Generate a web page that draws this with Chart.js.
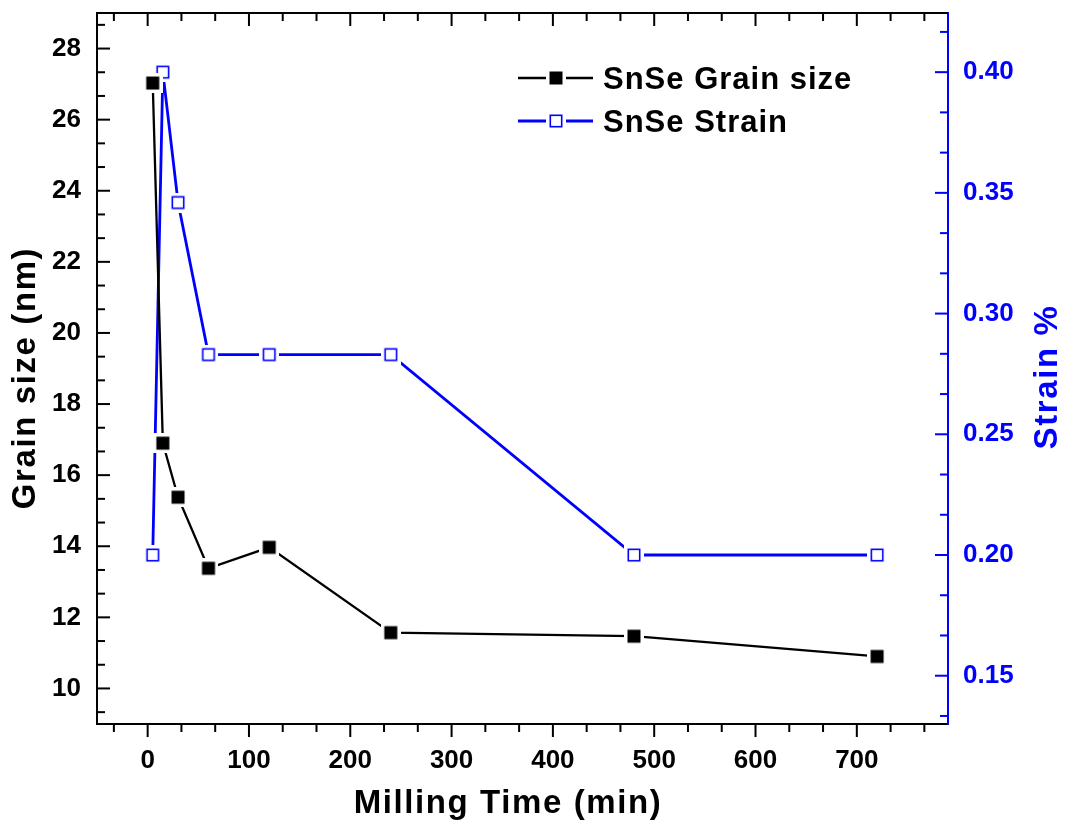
<!DOCTYPE html>
<html>
<head>
<meta charset="utf-8">
<script src="https://cdn.jsdelivr.net/npm/chart.js@4.4.1/dist/chart.umd.min.js"></script>
<style>
  html, body { margin: 0; padding: 0; background: #fff; }
</style>
</head>
<body>
<canvas id="grain-chart" width="1065" height="824"></canvas>
<script>
// values
const millingTime = [5, 15, 30, 60, 120, 240, 480, 720];
const grainSize = [27.03, 16.9, 15.38, 13.38, 13.97, 11.57, 11.47, 10.9];
const strain = [0.200, 0.400, 0.346, 0.283, 0.283, 0.283, 0.200, 0.200];
const xTicks = [0, 100, 200, 300, 400, 500, 600, 700];
const grainTicks = [10, 12, 14, 16, 18, 20, 22, 24, 26, 28];
const strainTicks = [0.15, 0.20, 0.25, 0.30, 0.35, 0.40];
const seriesNames = ['SnSe Grain size', 'SnSe Strain'];

const BLUE = '#0000ff';
const FAMILY = '"Liberation Sans", Arial, sans-serif';

// square markers with a white ring, so the line stops short of them
function makeMarker(filled, color) {
  const c = document.createElement('canvas');
  c.width = 20; c.height = 20;
  const g = c.getContext('2d');
  g.fillStyle = '#fff';
  g.fillRect(0, 0, 20, 20);
  if (filled) {
    g.fillStyle = color;
    g.fillRect(3.5, 3.5, 13, 13);
  } else {
    g.strokeStyle = color;
    g.lineWidth = 1.6;
    g.strokeRect(4.3, 4.3, 11.4, 11.4);
  }
  return c;
}
const blackMark = makeMarker(true, '#000');
const blueMark = makeMarker(false, BLUE);

function minorValues(scale, majors) {
  const step = (majors[1] - majors[0]) / 3;
  const out = [];
  let v = majors[0];
  while (v - step >= scale.min - 1e-9) v -= step;
  for (; v <= scale.max + 1e-9; v += step) out.push(v);
  return out;
}

function isMajor(v, majors) {
  return majors.some(m => Math.abs(m - v) < 1e-6);
}

function noPad(s) {
  s.paddingTop = 0; s.paddingBottom = 0;
  s.paddingLeft = 0; s.paddingRight = 0;
}

const framePlugin = {
  id: 'frame',
  afterDraw(chart) {
    const ctx = chart.ctx;
    const {left, right, top, bottom} = chart.chartArea;
    const sx = chart.scales.x, sy = chart.scales.y, sy2 = chart.scales.y2;
    ctx.save();
    ctx.lineWidth = 2;
    ctx.lineCap = 'butt';

    // top frame line
    ctx.strokeStyle = '#000';
    ctx.beginPath();
    ctx.moveTo(left - 1, top);
    ctx.lineTo(right, top);
    ctx.stroke();

    // x ticks: outward at bottom, inward at top
    minorValues(sx, xTicks).forEach(v => {
      const p = sx.getPixelForValue(v);
      const len = isMajor(v, xTicks) ? 13 : 8;
      ctx.beginPath();
      ctx.moveTo(p, bottom); ctx.lineTo(p, bottom + len);
      ctx.moveTo(p, top); ctx.lineTo(p, top + len);
      ctx.stroke();
    });

    // left ticks, inward
    minorValues(sy, grainTicks).forEach(v => {
      const p = sy.getPixelForValue(v);
      const len = isMajor(v, grainTicks) ? 13 : 8;
      ctx.beginPath();
      ctx.moveTo(left, p); ctx.lineTo(left + len, p);
      ctx.stroke();
    });

    // right ticks, inward, blue
    ctx.strokeStyle = BLUE;
    minorValues(sy2, strainTicks).forEach(v => {
      const p = sy2.getPixelForValue(v);
      const len = isMajor(v, strainTicks) ? 13 : 8;
      ctx.beginPath();
      ctx.moveTo(right, p); ctx.lineTo(right - len, p);
      ctx.stroke();
    });

    // axis titles
    ctx.font = 'bold 33px ' + FAMILY;
    ctx.letterSpacing = '1.6px';
    ctx.textBaseline = 'alphabetic';
    ctx.textAlign = 'center';
    ctx.fillStyle = '#000';
    ctx.fillText('Milling Time (min)', 508, 813);

    ctx.save();
    ctx.translate(35, 378);
    ctx.rotate(-Math.PI / 2);
    ctx.fillText('Grain size (nm)', 0, 0);
    ctx.restore();

    ctx.save();
    ctx.fillStyle = BLUE;
    ctx.translate(1057, 377);
    ctx.rotate(-Math.PI / 2);
    ctx.fillText('Strain %', 0, 0);
    ctx.restore();

    // legend
    const rows = [
      {y: 78, color: '#000', mark: blackMark, width: 2.3},
      {y: 121, color: BLUE, mark: blueMark, width: 2.8}
    ];
    ctx.font = 'bold 31px ' + FAMILY;
    ctx.letterSpacing = '1px';
    ctx.textAlign = 'left';
    ctx.fillStyle = '#000';
    rows.forEach((r, i) => {
      ctx.strokeStyle = r.color;
      ctx.lineWidth = r.width;
      ctx.beginPath();
      ctx.moveTo(518, r.y); ctx.lineTo(593, r.y);
      ctx.stroke();
      ctx.drawImage(r.mark, 556 - 10, r.y - 10);
      ctx.fillText(seriesNames[i], 603, r.y + 11);
    });
    ctx.restore();
  }
};

const tickFont = {family: FAMILY, size: 26, weight: 'bold'};

const ctx = document.getElementById('grain-chart').getContext('2d');
const chart = new Chart(ctx, {
  type: 'scatter',
  data: {
    datasets: [
      {
        label: seriesNames[0],
        data: millingTime.map((t, i) => ({x: t, y: grainSize[i]})),
        yAxisID: 'y',
        showLine: true,
        borderColor: '#000',
        borderWidth: 2.3,
        pointStyle: blackMark,
        pointRadius: 10
      },
      {
        label: seriesNames[1],
        data: millingTime.map((t, i) => ({x: t, y: strain[i]})),
        yAxisID: 'y2',
        showLine: true,
        borderColor: BLUE,
        borderWidth: 2.8,
        pointStyle: blueMark,
        pointRadius: 10
      }
    ]
  },
  options: {
    responsive: false,
    animation: false,
    devicePixelRatio: 1,
    layout: {padding: {top: 13, left: 0, right: 0, bottom: 0}},
    plugins: {
      legend: {display: false},
      tooltip: {enabled: false}
    },
    scales: {
      x: {
        type: 'linear',
        min: -50,
        max: 790,
        afterBuildTicks: s => { s.ticks = xTicks.map(v => ({value: v})); },
        afterFit: s => { s.height = 100; noPad(s); },
        grid: {display: false, drawTicks: false},
        border: {display: true, color: '#000', width: 2},
        ticks: {color: '#000', font: tickFont, padding: 21, maxRotation: 0}
      },
      y: {
        position: 'left',
        min: 9,
        max: 29,
        afterBuildTicks: s => { s.ticks = grainTicks.map(v => ({value: v})); },
        afterFit: s => { s.width = 97; noPad(s); },
        grid: {display: false, drawTicks: false},
        border: {display: true, color: '#000', width: 2},
        ticks: {color: '#000', font: tickFont, padding: 16}
      },
      y2: {
        position: 'right',
        min: 0.130,
        max: 0.4245,
        afterBuildTicks: s => { s.ticks = strainTicks.map(v => ({value: v})); },
        afterFit: s => { s.width = 117; noPad(s); },
        grid: {display: false, drawTicks: false},
        border: {display: true, color: BLUE, width: 2},
        ticks: {color: BLUE, font: tickFont, padding: 15, callback: v => v.toFixed(2)}
      }
    }
  },
  plugins: [framePlugin]
});
</script>
</body>
</html>
